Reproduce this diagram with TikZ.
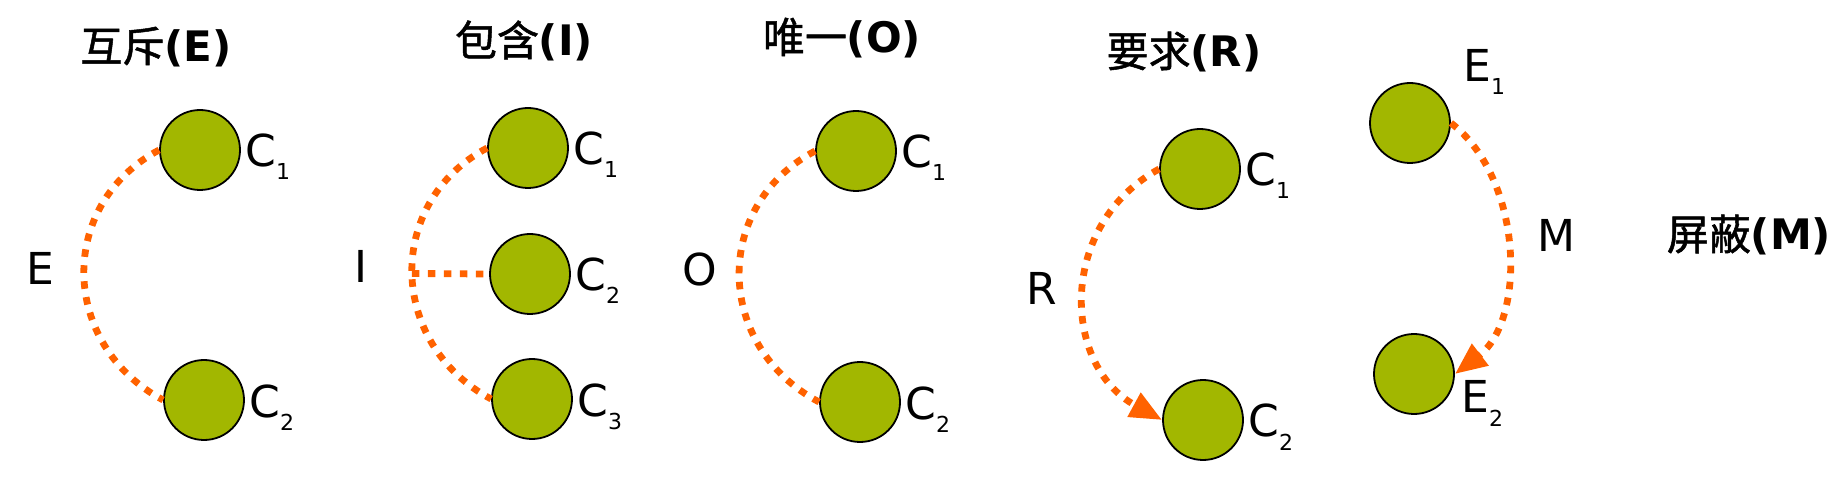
\documentclass[tikz,border=0pt]{standalone}
\usepackage{fontspec}
\setmainfont{DejaVu Sans}
\newfontfamily\cjk{Noto Sans CJK SC}[FakeBold = 1.2, BoldFont = {Noto Sans CJK SC}, BoldFeatures = {FakeBold = 1.2}]
\usepackage{xcolor}
\usepackage{tikz}
\usetikzlibrary{arrows.meta}

\definecolor{ballgreen}{HTML}{A2B700}
\definecolor{linkorange}{HTML}{FF6200}

\newcommand{\lowidx}[1]{\raisebox{-6.5pt}{\fontsize{11}{11}\selectfont #1}}

\tikzset{
	ball/.style = {circle, draw = black, line width = 0.9pt, fill = ballgreen, minimum size = 40pt, inner sep = 0pt},
	link/.style = {draw = linkorange, line width = 3.4pt, dash pattern = on 3.8pt off 4.2pt},
	linkarrow/.style = {link, -{Triangle[length = 16pt, width = 13pt]}},
	lbl/.style = {font = \fontsize{22}{26}\selectfont, inner sep = 0pt, anchor = base west},
	rel/.style = {font = \fontsize{22}{26}\selectfont, inner sep = 0pt, anchor = base},
	title/.style = {font = \fontsize{21}{25}\selectfont\bfseries, inner sep = 0pt}
}

\begin{document}
\begin{tikzpicture}[x = 0.5pt, y = -0.5pt]
			\useasboundingbox (0,0) rectangle (1846,480);
			
			% titles
			\node [title] (tE) at (156,47) {{\cjk 互斥}(E)};
			\node [title] (tI) at (524,41) {{\cjk 包含}(I)};
			\node [title] (tO) at (842,38) {{\cjk 唯一}(O)};
			\node [title] (tR) at (1184,52) {{\cjk 要求}(R)};
			\node [title] (tM) at (1749,235) {{\cjk 屏蔽}(M)};
			
			% E
			\node [ball] (e1) at (200,150) {};
			\node [ball] (e2) at (204,400) {};
			\node [lbl] (e1lab) at (245,167) {C\lowidx{1}};
			\node [lbl] (e2lab) at (249,417) {C\lowidx{2}};
			\node [rel] (eRel) at (40,285) {E};
			\draw [link] (e1.west) .. controls +(-103,55) and +(-103,-55) .. (e2.west);
			
			% I
			\node [ball] (i1) at (528,148) {};
			\node [ball] (i2) at (530,274) {};
			\node [ball] (i3) at (532,399) {};
			\node [lbl] (i1lab) at (573,165) {C\lowidx{1}};
			\node [lbl] (i2lab) at (575,291) {C\lowidx{2}};
			\node [lbl] (i3lab) at (577,416) {C\lowidx{3}};
			\node [rel] (iRel) at (361,283) {I};
			\draw [link] (i1.west) .. controls +(-103,55) and +(-103,-55) .. (i3.west) coordinate [pos = 0.5] (ifork);
			\draw [link] (ifork) -- (i2.west);
			
			% O
			\node [ball] (o1) at (856,151) {};
			\node [ball] (o2) at (860,402) {};
			\node [lbl] (o1lab) at (901,168) {C\lowidx{1}};
			\node [lbl] (o2lab) at (905,419) {C\lowidx{2}};
			\node [rel] (oRel) at (700,286) {O};
			\draw [link] (o1.west) .. controls +(-104,55) and +(-104,-55) .. (o2.west);
			
			% R
			\node [ball] (r1) at (1200,169) {};
			\node [ball] (r2) at (1203,420) {};
			\node [lbl] (r1lab) at (1245,186) {C\lowidx{1}};
			\node [lbl] (r2lab) at (1248,437) {C\lowidx{2}};
			\node [rel] (rRel) at (1042,305) {R};
			\draw [linkarrow] (r1.west) .. controls +(-101,55) and +(-101,-55) .. (r2.west);
			
			% M
			\node [ball] (m1) at (1410,123) {};
			\node [ball] (m2) at (1414,374) {};
			\node [lbl] (m1lab) at (1463,82) {E\lowidx{1}};
			\node [lbl] (m2lab) at (1461,413) {E\lowidx{2}};
			\node [rel] (mRel) at (1556,252) {M};
			\draw [linkarrow] (m1.east) .. controls +(72,55) and +(72,-55) .. (m2.east);
			
		\end{tikzpicture}
\end{document}
